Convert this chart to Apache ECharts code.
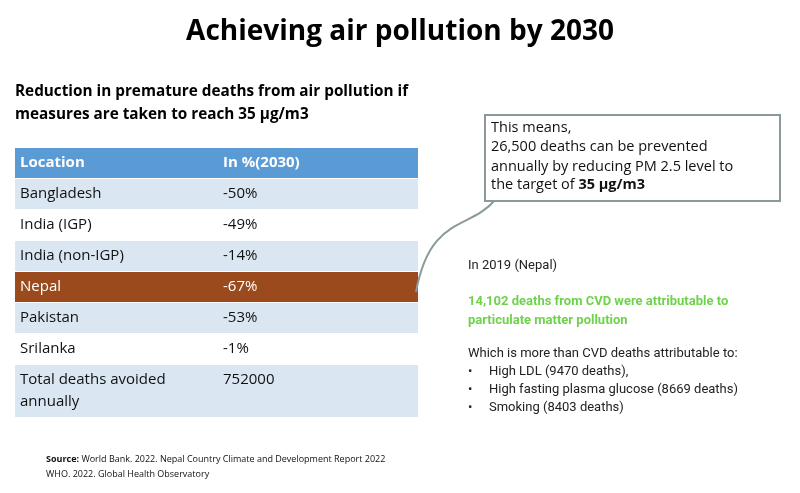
<!DOCTYPE html>
<html lang="en">
<head>
<meta charset="UTF-8"/>
<title>Achieving air pollution by 2030</title>
<script src="https://cdn.jsdelivr.net/npm/echarts@6/dist/echarts.min.js"></script>
<style>html,body{margin:0;padding:0;background:#fff}#main{width:800px;height:493px}</style>
</head>
<body>
<div id="main"></div>
<script>
// table data
var headers = ['Location', 'In %(2030)'];
var locations = ['Bangladesh', 'India (IGP)', 'India (non-IGP)', 'Nepal', 'Pakistan', 'Srilanka', 'Total deaths avoided\nannually'];
var values = ['-50%', '-49%', '-14%', '-67%', '-53%', '-1%', '752000'];
var highlight = 'Nepal';
var calloutLines = ['This means,', '26,500 deaths can be prevented', 'annually by reducing PM 2.5 level to'];
var bullets = ['High LDL (9470 deaths),', 'High fasting plasma glucose (8669 deaths)', 'Smoking (8403 deaths)'];

var chart = echarts.init(document.getElementById('main'));
var F = 'Open Sans, Noto Sans, sans-serif';
var g = [];

g.push({type: 'text', left: 'center', top: 18, style: {text: 'Achieving air pollution by 2030', font: 'bold 28px ' + F, fill: '#000'}});
g.push({type: 'text', left: 15, top: 80, style: {text: 'Reduction in premature deaths from air pollution if\nmeasures are taken to reach 35 µg/m3', font: 'bold 15.3px ' + F, fill: '#000', lineHeight: 23}});

// table
var tx = 15, tw = 403, split = 218, y = 148;
g.push({type: 'rect', shape: {x: tx, y: y, width: tw, height: 30}, style: {fill: '#5b9bd5'}});
g.push({type: 'text', x: tx + 5, y: y + 15, style: {text: headers[0], font: 'bold 15px ' + F, fill: '#fff', verticalAlign: 'middle'}});
g.push({type: 'text', x: split + 5, y: y + 15, style: {text: headers[1], font: 'bold 15px ' + F, fill: '#fff', verticalAlign: 'middle'}});
y += 31;
locations.forEach(function (loc, i) {
    var h = i === locations.length - 1 ? 53 : 31;
    var isHi = loc === highlight;
    var fill = isHi ? '#9a4a1c' : (i % 2 === 0 ? '#dbe6f3' : '#ffffff');
    var tc = isHi ? '#fff' : '#111';
    g.push({type: 'rect', shape: {x: tx, y: y, width: tw, height: h - 1}, style: {fill: fill}});
    g.push({type: 'text', x: tx + 5, y: y + 4, style: {text: loc, font: '15px ' + F, fill: tc, lineHeight: 22}});
    g.push({type: 'text', x: split + 5, y: y + 4, style: {text: values[i], font: '15px ' + F, fill: tc, lineHeight: 22}});
    y += h;
});

// callout
g.push({type: 'bezierCurve', shape: {x1: 416, y1: 292, x2: 495, y2: 200, cpx1: 430, cpy1: 215, cpx2: 470, cpy2: 230}, style: {stroke: '#8a9a9a', lineWidth: 2, fill: null}});
g.push({type: 'rect', shape: {x: 485, y: 115, width: 295, height: 86}, style: {fill: '#fff', stroke: '#8a9a9a', lineWidth: 2}});
g.push({type: 'text', x: 491, y: 118, style: {text: calloutLines.join('\n'), font: '14.5px ' + F, fill: '#111', lineHeight: 19.5}});
g.push({type: 'text', x: 491, y: 177, style: {rich: {a: {font: '14.5px ' + F, fill: '#111'}, b: {font: 'bold 14.5px ' + F, fill: '#111'}}, text: '{a|the target of }{b|35 µg/m3}'}});

// right notes
g.push({type: 'text', x: 468, y: 259, style: {text: 'In 2019 (Nepal)', font: '13px Roboto, sans-serif', fill: '#222'}});
g.push({type: 'text', x: 468, y: 292, style: {text: '14,102 deaths from CVD were attributable to\nparticulate matter pollution', font: 'bold 13px Roboto, sans-serif', fill: '#6fd24d', lineHeight: 19}});
g.push({type: 'text', x: 468, y: 347, style: {text: 'Which is more than CVD deaths attributable to:', font: '13px Roboto, sans-serif', fill: '#222'}});
bullets.forEach(function (b, i) {
    g.push({type: 'text', x: 468, y: 365 + i * 18, style: {text: '•', font: '13px Roboto, sans-serif', fill: '#222'}});
    g.push({type: 'text', x: 489, y: 365 + i * 18, style: {text: b, font: '13px Roboto, sans-serif', fill: '#222'}});
});

// source
g.push({type: 'text', x: 46, y: 455, style: {rich: {b: {font: 'bold 9px ' + F, fill: '#111'}, a: {font: '9px ' + F, fill: '#111'}}, text: '{b|Source:}{a| World Bank. 2022. Nepal Country Climate and Development Report 2022}'}});
g.push({type: 'text', x: 46, y: 470, style: {text: 'WHO. 2022. Global Health Observatory', font: '9px ' + F, fill: '#111'}});

chart.setOption({animation: false, graphic: g});
</script>
</body>
</html>
